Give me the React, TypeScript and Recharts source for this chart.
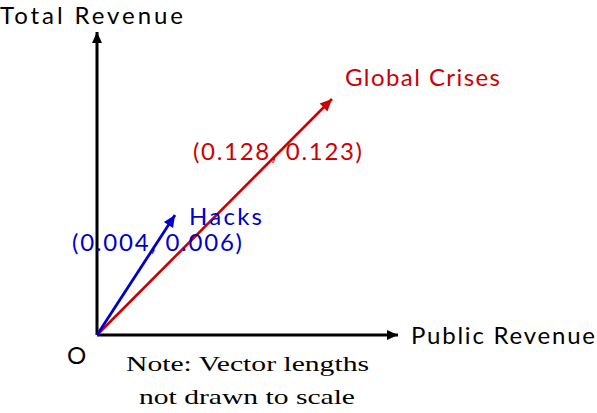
import { LineChart, Line, XAxis, YAxis } from "recharts";

// diagram units (vectors are not drawn to scale)
const axisX = [{ x: 0, y: 0 }, { x: 301, y: 0 }];
const axisY = [{ x: 0, y: 0 }, { x: 0, y: 303 }];
const crisesVec = [{ x: 0, y: 0 }, { x: 235, y: 236 }];
const hacksVec = [{ x: 0, y: 0 }, { x: 78, y: 120 }];

const crisesLabel = "Global Crises";
const crisesCoords = "(0.128, 0.123)";
const hacksLabel = "Hacks";
const hacksCoords = "(0.004, 0.006)";

const RED = "#cc0000";
const BLUE = "#0000cc";
const SANS = "Lato, 'DejaVu Sans', sans-serif";
const SERIF = "'Liberation Serif', 'DejaVu Serif', serif";

function arrowDot(color: string, len: number, half: number) {
  return (props: any) => {
    const { cx, cy, index, payload } = props;
    if (index !== 1 || cx == null) return <g key={`d${index}`} />;
    const a = Math.atan2(-payload.y, payload.x);
    const bx = cx - len * Math.cos(a);
    const by = cy - len * Math.sin(a);
    const px = -Math.sin(a) * half;
    const py = Math.cos(a) * half;
    const pts = `${cx},${cy} ${bx + px},${by + py} ${bx - px},${by - py}`;
    return <polygon key={`d${index}`} points={pts} fill={color} stroke="none" />;
  };
}

export default function App() {
  return (
    <div style={{ position: "absolute", left: 0, top: 0, width: 597, height: 413, background: "#fff" }}>
      <LineChart width={597} height={413} margin={{ top: 32, right: 199, bottom: 78, left: 97 }}>
        <XAxis type="number" dataKey="x" domain={[0, 301]} hide />
        <YAxis type="number" dataKey="y" domain={[0, 303]} hide />
        <Line data={axisX} dataKey="y" stroke="#000" strokeWidth={3} dot={arrowDot("#000", 11, 5)} isAnimationActive={false} />
        <Line data={axisY} dataKey="y" stroke="#000" strokeWidth={3} dot={arrowDot("#000", 11, 5)} isAnimationActive={false} />
        <Line data={crisesVec} dataKey="y" stroke={RED} strokeWidth={2.6} dot={arrowDot(RED, 12, 5.5)} isAnimationActive={false} />
        <Line data={hacksVec} dataKey="y" stroke={BLUE} strokeWidth={2.8} dot={arrowDot(BLUE, 12, 5.5)} isAnimationActive={false} />
      </LineChart>
      <svg width={597} height={413} style={{ position: "absolute", left: 0, top: 0, pointerEvents: "none" }}>
        <g fontFamily={SANS} fontSize={24}>
          <text x={0} y={24} textLength={183} fill="#000">Total Revenue</text>
          <text x={411} y={344} textLength={184} fill="#000">Public Revenue</text>
          <text x={67} y={364} fill="#000">O</text>
          <text x={345} y={86} textLength={155} fill={RED}>{crisesLabel}</text>
          <text x={193} y={160} textLength={169} fill={RED}>{crisesCoords}</text>
          <text x={189} y={225} textLength={73} fill={BLUE}>{hacksLabel}</text>
          <text x={72} y={251} textLength={170} fill={BLUE}>{hacksCoords}</text>
        </g>
        <g fontFamily={SERIF} fontSize={22} fill="#000">
          <text x={126} y={371} textLength={243} lengthAdjust="spacingAndGlyphs">Note: Vector lengths</text>
          <text x={139} y={404} textLength={216} lengthAdjust="spacingAndGlyphs">not drawn to scale</text>
        </g>
      </svg>
    </div>
  );
}
